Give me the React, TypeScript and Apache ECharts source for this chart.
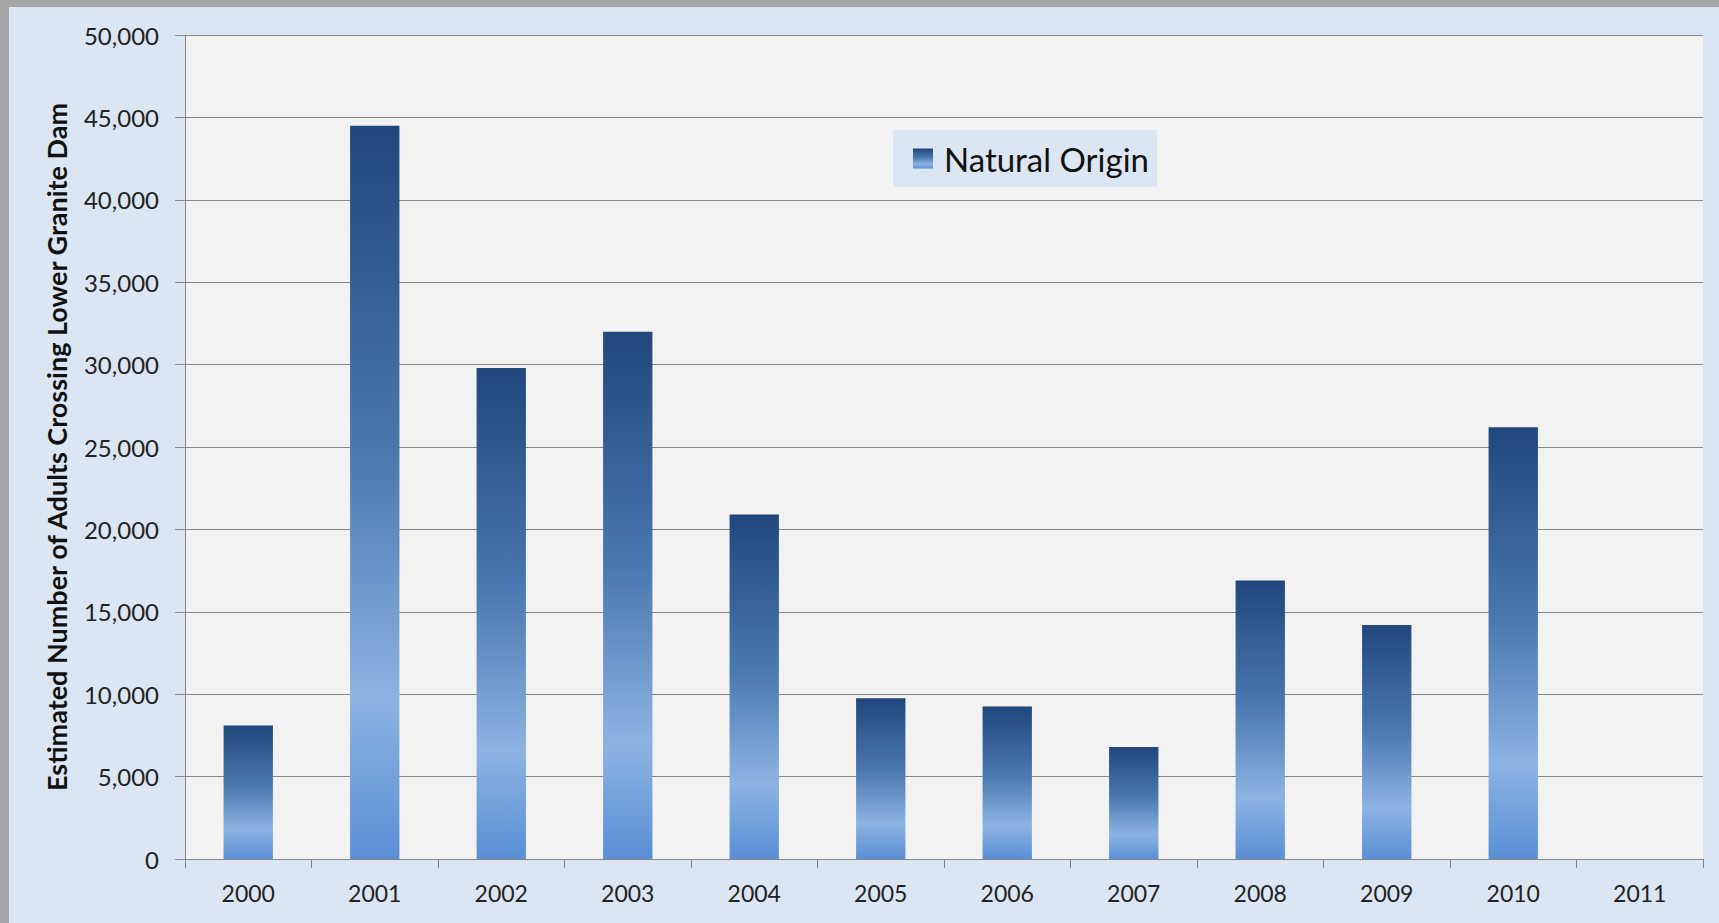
import React, { useEffect, useRef } from "react";
import * as echarts from "echarts";

const categories = ["2000", "2001", "2002", "2003", "2004", "2005", "2006", "2007", "2008", "2009", "2010", "2011"];
const naturalOrigin: (number | null)[] = [8100, 44500, 29800, 32000, 20900, 9750, 9250, 6800, 16900, 14200, 26200, null];
const seriesName = "Natural Origin";
const yAxisTitle = "Estimated Number of Adults Crossing Lower Granite Dam";
const yMin = 0;
const yMax = 50000;
const yInterval = 5000;

const FONT = "Lato, 'Open Sans', sans-serif";

export default function App() {
  const ref = useRef<HTMLDivElement>(null);
  useEffect(() => {
    if (!ref.current) return;
    const chart = echarts.init(ref.current, null, { renderer: "svg" });
    const barGradient = new echarts.graphic.LinearGradient(0, 0, 0, 1, [
      { offset: 0, color: "#21477c" },
      { offset: 0.45, color: "#4b78b0" },
      { offset: 0.78, color: "#8db3e2" },
      { offset: 1, color: "#5a8fd6" },
    ]);
    chart.setOption({
      animation: false,
      backgroundColor: "#a6a6a6",
      graphic: [
        {
          type: "rect",
          silent: true,
          z: -10,
          shape: { x: 9, y: 7, width: 1710, height: 916 },
          style: { fill: "#dce6f2" },
        },
      ],
      grid: {
        left: 185,
        top: 35,
        right: 16,
        bottom: 64,
        show: true,
        backgroundColor: "#f2f2f2",
        borderWidth: 0,
      },
      legend: {
        left: 893,
        top: 130,
        data: [seriesName],
        icon: "rect",
        backgroundColor: "#dce6f2",
        padding: [12, 8, 12, 20],
        itemWidth: 20,
        itemHeight: 20,
        itemGap: 10,
        textStyle: { fontFamily: FONT, fontSize: 33, color: "#111", padding: [0, 0, 0, 6] },
      },
      xAxis: {
        type: "category",
        data: categories,
        boundaryGap: true,
        axisLine: { show: true, lineStyle: { color: "#868686", width: 1 } },
        axisTick: { show: true, alignWithLabel: false, length: 9, lineStyle: { color: "#868686" } },
        axisLabel: { fontFamily: FONT, fontSize: 23, color: "#222", margin: 22 },
        splitLine: { show: false },
      },
      yAxis: {
        type: "value",
        min: yMin,
        max: yMax,
        interval: yInterval,
        name: yAxisTitle,
        nameLocation: "middle",
        nameGap: 115,
        nameRotate: 90,
        nameTextStyle: { fontFamily: FONT, fontSize: 27, fontWeight: "bold", color: "#111" },
        axisLine: { show: true, lineStyle: { color: "#868686", width: 1 } },
        axisTick: { show: true, length: 10, lineStyle: { color: "#868686" } },
        axisLabel: {
          fontFamily: FONT,
          fontSize: 24,
          color: "#222",
          margin: 26,
          formatter: (v: number) => v.toLocaleString("en-US"),
        },
        splitLine: { show: true, lineStyle: { color: "#868686", width: 1 } },
      },
      series: [
        {
          name: seriesName,
          type: "bar",
          data: naturalOrigin,
          barWidth: "39%",
          itemStyle: { color: barGradient },
        },
      ],
    });
    return () => chart.dispose();
  }, []);
  return (
    <div
      ref={ref}
      style={{ position: "fixed", left: 0, top: 0, width: 1719, height: 923 }}
    />
  );
}
